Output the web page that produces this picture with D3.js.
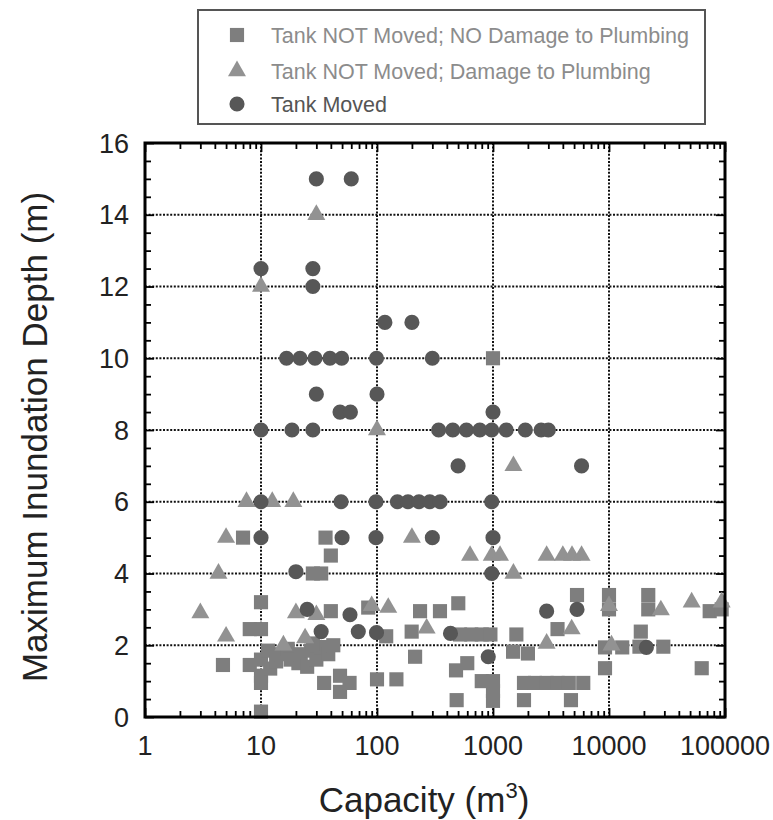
<!DOCTYPE html>
<html>
<head>
<meta charset="utf-8">
<script src="https://cdn.jsdelivr.net/npm/d3@7"></script>
<style>
  body { margin: 0; background: #fff; }
  svg { display: block; font-family: "Liberation Sans", Arial, sans-serif; }
</style>
</head>
<body>
<svg id="chart" width="773" height="820"></svg>
<script>
// [capacity m3, max depth m]
var notMovedNoDamage = [
  [1000, 10], [7, 5], [36, 5], [40, 4.5], [28, 4], [33, 4], [10, 3.2],
  [40, 2.95], [84, 3.05], [8, 2.45], [10, 2.45], [4.7, 1.45], [8, 1.45],
  [10, 0.95], [10, 1.15], [10, 1.6], [11.5, 1.85], [12, 1.35], [13.5, 1.55],
  [15, 1.75], [17, 1.9], [18, 1.6], [21, 1.5], [22, 1.75], [25, 1.4],
  [27, 1.85], [30, 1.6], [33, 1.95], [38, 1.75], [42, 2.0], [28, 2.05],
  [35, 0.95], [48, 1.15], [48, 0.7], [58, 0.95], [100, 1.05], [147, 1.05],
  [120, 2.25], [235, 2.95], [349, 2.95], [502, 3.17], [199, 2.38], [213, 1.68],
  [520, 2.3], [650, 2.3], [800, 2.3], [950, 2.3], [1590, 2.3], [1490, 1.82],
  [2000, 1.77], [3600, 2.45], [480, 1.3], [600, 1.5], [486, 0.47],
  [800, 1.0], [1000, 1.0], [1000, 0.72], [1000, 0.45],
  [1850, 0.95], [2300, 0.95], [2900, 0.95], [3600, 0.95], [4500, 0.95], [6000, 0.95],
  [1850, 0.47], [4700, 0.47], [5300, 3.4], [10000, 3.4], [10000, 3.0],
  [21800, 3.4], [21800, 3.0], [73800, 2.95], [93600, 3.0],
  [9240, 1.94], [13000, 1.94], [18800, 2.38], [18300, 1.96], [29400, 1.96],
  [9240, 1.36], [63000, 1.36], [10, 0.15]
];

var notMovedDamage = [
  [30, 14], [10, 12], [100, 8], [7.5, 6], [12.5, 6], [19, 6], [5, 5], [200, 5],
  [4.3, 4], [634, 4.5], [975, 4.5], [1150, 4.5], [2900, 4.5], [4000, 4.5],
  [4800, 4.5], [5800, 4.5], [1500, 7], [1500, 4], [3, 2.9], [20, 2.9],
  [30, 2.85], [90, 3.1], [125, 3.05], [5, 2.25], [15.6, 2.0], [24, 2.2],
  [268, 2.47], [2900, 2.05], [4765, 2.45], [10000, 3.1], [28000, 2.98],
  [51600, 3.2], [93600, 3.2], [10500, 2.0]
];

var tankMoved = [
  [30, 15], [60, 15], [10, 12.5], [28, 12.5], [28, 12], [117, 11], [200, 11],
  [16.6, 10], [21.7, 10], [29.2, 10], [39.3, 10], [49.6, 10], [99, 10], [300, 10],
  [30, 9], [100, 9], [48, 8.5], [59, 8.5], [1000, 8.5],
  [10, 8], [18.5, 8], [28, 8], [340, 8], [450, 8], [590, 8], [770, 8], [975, 8],
  [1300, 8], [1900, 8], [2600, 8], [3000, 8],
  [500, 7], [5800, 7],
  [10, 6], [49, 6], [98, 6], [150, 6], [185, 6], [230, 6], [285, 6], [350, 6], [975, 6],
  [10, 5], [50, 5], [98, 5], [300, 5], [1000, 5],
  [20, 4.05], [975, 4], [25, 3], [58.5, 2.85], [2900, 2.95], [5300, 3.0],
  [33, 2.38], [69, 2.38], [99, 2.35], [430, 2.33], [910, 1.68], [21000, 1.94]
];

var xTicks = [1, 10, 100, 1000, 10000, 100000];
var yTicks = [0, 2, 4, 6, 8, 10, 12, 14, 16];
var legendLabels = [
  "Tank NOT Moved; NO Damage to Plumbing",
  "Tank NOT Moved; Damage to Plumbing",
  "Tank Moved"
];

var svg = d3.select("#chart");
var pLeft = 145, pTop = 143, pRight = 725, pBottom = 717;

var x = d3.scaleLog().domain([1, 100000]).range([pLeft, pRight]);
var y = d3.scaleLinear().domain([0, 16]).range([pBottom, pTop]);

var colSquare = "#7e7e7e", colTri = "#929292", colCircle = "#575757";

// dotted grid at major ticks
var grid = svg.append("g");
grid.selectAll(".gx").data(xTicks.slice(1, -1)).join("line")
  .attr("x1", d => x(d)).attr("x2", d => x(d))
  .attr("y1", pTop).attr("y2", pBottom);
grid.selectAll(".gy").data(yTicks.slice(1, -1)).join("line")
  .attr("x1", pLeft).attr("x2", pRight)
  .attr("y1", d => y(d)).attr("y2", d => y(d));
grid.selectAll("line")
  .attr("stroke", "#111").attr("stroke-width", 2)
  .attr("stroke-dasharray", "2,1.6");

// inward ticks on all four sides
var logTicks = x.ticks(50);
var isMajorX = d => Math.abs(Math.log10(d) - Math.round(Math.log10(d))) < 1e-9;
var halfTicks = d3.range(0, 16.01, 0.5);

function tickAxis(axis, tf) {
  var g = svg.append("g").attr("transform", tf).call(axis);
  g.select(".domain").remove();
  g.selectAll(".tick text").remove();
  g.selectAll(".tick line").attr("stroke", "#000").attr("stroke-width", 1.8);
  return g;
}

var gb = tickAxis(d3.axisBottom(x).tickValues(logTicks).tickSize(-6), "translate(0," + pBottom + ")");
gb.selectAll(".tick line").attr("y2", d => isMajorX(d) ? -9 : -6);
var gt = tickAxis(d3.axisTop(x).tickValues(logTicks).tickSize(-6), "translate(0," + pTop + ")");
gt.selectAll(".tick line").attr("y2", d => isMajorX(d) ? 9 : 6);
var gl = tickAxis(d3.axisLeft(y).tickValues(halfTicks).tickSize(-6), "translate(" + pLeft + ",0)");
gl.selectAll(".tick line").attr("x2", d => d % 2 === 0 ? 9 : 6);
var gr = tickAxis(d3.axisRight(y).tickValues(halfTicks).tickSize(-6), "translate(" + pRight + ",0)");
gr.selectAll(".tick line").attr("x2", d => d % 2 === 0 ? -9 : -6);

// markers
var sq = d3.symbol().type(d3.symbolSquare).size(200);
var tri = d3.symbol().type(d3.symbolTriangle).size(140);
var circ = d3.symbol().type(d3.symbolCircle).size(180);

var pts = svg.append("g");
pts.selectAll(".sq").data(notMovedNoDamage).join("path")
  .attr("d", sq).attr("fill", colSquare)
  .attr("transform", d => "translate(" + x(d[0]) + "," + y(d[1]) + ")");
pts.selectAll(".tri").data(notMovedDamage).join("path")
  .attr("d", tri).attr("fill", colTri)
  .attr("transform", d => "translate(" + x(d[0]) + "," + y(d[1]) + ")");
pts.selectAll(".ci").data(tankMoved).join("path")
  .attr("d", circ).attr("fill", colCircle)
  .attr("transform", d => "translate(" + x(d[0]) + "," + y(d[1]) + ")");

// frame
svg.append("rect")
  .attr("x", pLeft).attr("y", pTop)
  .attr("width", pRight - pLeft).attr("height", pBottom - pTop)
  .attr("fill", "none").attr("stroke", "#000").attr("stroke-width", 3);

// tick labels
svg.selectAll(".xlab").data(xTicks).join("text")
  .attr("x", d => x(d)).attr("y", 755)
  .attr("text-anchor", "middle")
  .attr("font-size", 27).attr("fill", "#222")
  .text(d => d);
svg.selectAll(".ylab").data(yTicks).join("text")
  .attr("x", 129).attr("y", d => y(d)).attr("dy", "0.36em")
  .attr("text-anchor", "end")
  .attr("font-size", 27).attr("fill", "#222")
  .text(d => d);

// axis titles
var xt = svg.append("text")
  .attr("x", 424).attr("y", 812)
  .attr("text-anchor", "middle")
  .attr("font-size", 35).attr("fill", "#222");
xt.append("tspan").text("Capacity (m");
xt.append("tspan").attr("font-size", 22).attr("dy", -14).text("3");
xt.append("tspan").attr("dy", 14).text(")");

svg.append("text")
  .attr("transform", "translate(47,437) rotate(-90)")
  .attr("text-anchor", "middle")
  .attr("font-size", 35).attr("fill", "#222")
  .text("Maximum Inundation Depth (m)");

// legend
var lg = svg.append("g");
lg.append("rect")
  .attr("x", 198).attr("y", 10).attr("width", 507).attr("height", 114)
  .attr("fill", "#fff").attr("stroke", "#555").attr("stroke-width", 2);

var legendRows = [
  { label: legendLabels[0], sym: sq, fill: colSquare, text: "#8c8c8c" },
  { label: legendLabels[1], sym: tri, fill: colTri, text: "#8c8c8c" },
  { label: legendLabels[2], sym: circ, fill: colCircle, text: "#555" }
];
var legendY = [35, 71, 104];

lg.selectAll(".lm").data(legendRows).join("path")
  .attr("d", d => d.sym()).attr("fill", d => d.fill)
  .attr("transform", (d, i) => "translate(237," + legendY[i] + ")");
lg.selectAll(".lt").data(legendRows).join("text")
  .attr("x", 271).attr("y", (d, i) => legendY[i]).attr("dy", "0.36em")
  .attr("font-size", 21.5).attr("fill", d => d.text)
  .text(d => d.label);
</script>
</body>
</html>
